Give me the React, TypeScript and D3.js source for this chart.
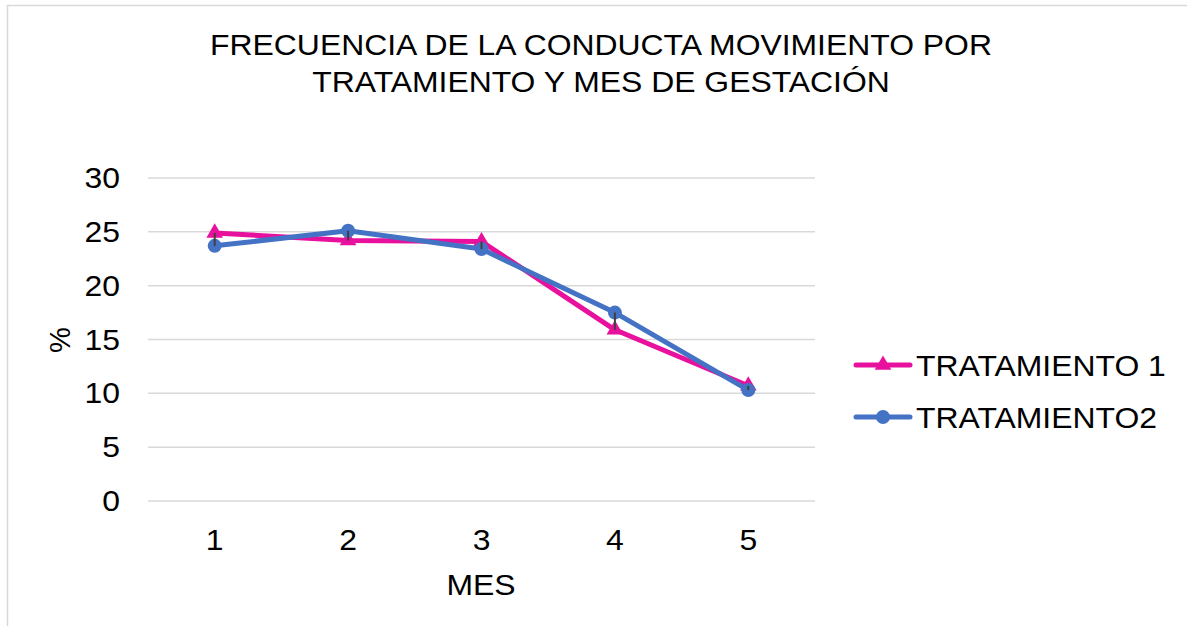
import React from 'react';
import * as d3 from 'd3';

const months = ['1', '2', '3', '4', '5'];
const tratamiento1 = [24.9, 24.2, 24.1, 15.9, 10.7];
const tratamiento2 = [23.7, 25.1, 23.4, 17.5, 10.3];
const yTicks = [0, 5, 10, 15, 20, 25, 30];

const PINK = '#E8119E';
const BLUE = '#4472C4';
const FONT = '"Liberation Sans", Arial, sans-serif';
const SX = 1.1; // reference text is a bit wider than plain Arial

// text that is stretched horizontally around its anchor point
const Label = ({ x, y, anchor = 'start', children }: { x: number; y: number; anchor?: string; children: React.ReactNode }) => (
  <text transform={`translate(${x},${y}) scale(${SX},1)`} textAnchor={anchor} fontSize={29} fill="#000">
    {children}
  </text>
);

const App = () => {
  const width = 1187;
  const height = 626;
  const margin = { top: 178, right: 372, bottom: 125, left: 148 };

  const x = d3.scaleBand()
    .domain(months)
    .range([margin.left, width - margin.right]);

  const y = d3.scaleLinear()
    .domain([0, 30])
    .range([height - margin.bottom, margin.top]);

  const cx = (m: string) => (x(m) as number) + x.bandwidth() / 2;

  const line = d3.line<number>()
    .x((_, i) => cx(months[i]))
    .y(d => y(d));

  const tri = d3.symbol().type(d3.symbolTriangle).size(120)();

  return (
    <svg width={width} height={height} style={{ position: 'absolute', left: 0, top: 0, fontFamily: FONT }}>
      <rect x={0} y={0} width={width} height={height} fill="#fff" />
      <rect x={7.5} y={5.5} width={width + 20} height={height + 20} fill="none" stroke="#d9d9d9" strokeWidth={1.5} />

      {/* title */}
      <Label x={601} y={55} anchor="middle">FRECUENCIA DE LA CONDUCTA MOVIMIENTO POR</Label>
      <Label x={601} y={92} anchor="middle">TRATAMIENTO Y MES DE GESTACIÓN</Label>

      {/* grid + y labels */}
      {yTicks.map(t => (
        <g key={t}>
          <line x1={margin.left} x2={width - margin.right} y1={y(t)} y2={y(t)} stroke="#d9d9d9" strokeWidth={1.5} />
          <Label x={120} y={y(t) + 10} anchor="end">{t}</Label>
        </g>
      ))}

      {/* x labels */}
      {months.map(m => (
        <Label key={m} x={cx(m)} y={550} anchor="middle">{m}</Label>
      ))}
      <Label x={481} y={595} anchor="middle">MES</Label>
      <text transform="translate(70,340) rotate(-90)" textAnchor="middle" fontSize={29} fill="#000">%</text>

      {/* series 1 */}
      <path d={line(tratamiento1) || ''} fill="none" stroke={PINK} strokeWidth={5} strokeLinejoin="round" />
      {tratamiento1.map((v, i) => (
        <path key={i} d={tri || ''} transform={`translate(${cx(months[i])},${y(v)})`} fill={PINK} />
      ))}

      {/* series 2 */}
      <path d={line(tratamiento2) || ''} fill="none" stroke={BLUE} strokeWidth={5} strokeLinejoin="round" />
      {tratamiento2.map((v, i) => (
        <circle key={i} cx={cx(months[i])} cy={y(v)} r={7} fill={BLUE} />
      ))}

      {/* high-low lines */}
      {months.map((m, i) => (
        <line key={m} x1={cx(m)} x2={cx(m)}
          y1={y(Math.max(tratamiento1[i], tratamiento2[i]))}
          y2={y(Math.min(tratamiento1[i], tratamiento2[i]))}
          stroke="#404040" strokeWidth={2} />
      ))}

      {/* legend */}
      <g>
        <line x1={856} x2={910} y1={365} y2={365} stroke={PINK} strokeWidth={5} strokeLinecap="round" />
        <path d={tri || ''} transform="translate(883,365)" fill={PINK} />
        <Label x={916} y={376}>TRATAMIENTO 1</Label>
        <line x1={856} x2={910} y1={417} y2={417} stroke={BLUE} strokeWidth={5} strokeLinecap="round" />
        <circle cx={883} cy={417} r={7} fill={BLUE} />
        <Label x={916} y={428}>TRATAMIENTO2</Label>
      </g>
    </svg>
  );
};

export default App;
